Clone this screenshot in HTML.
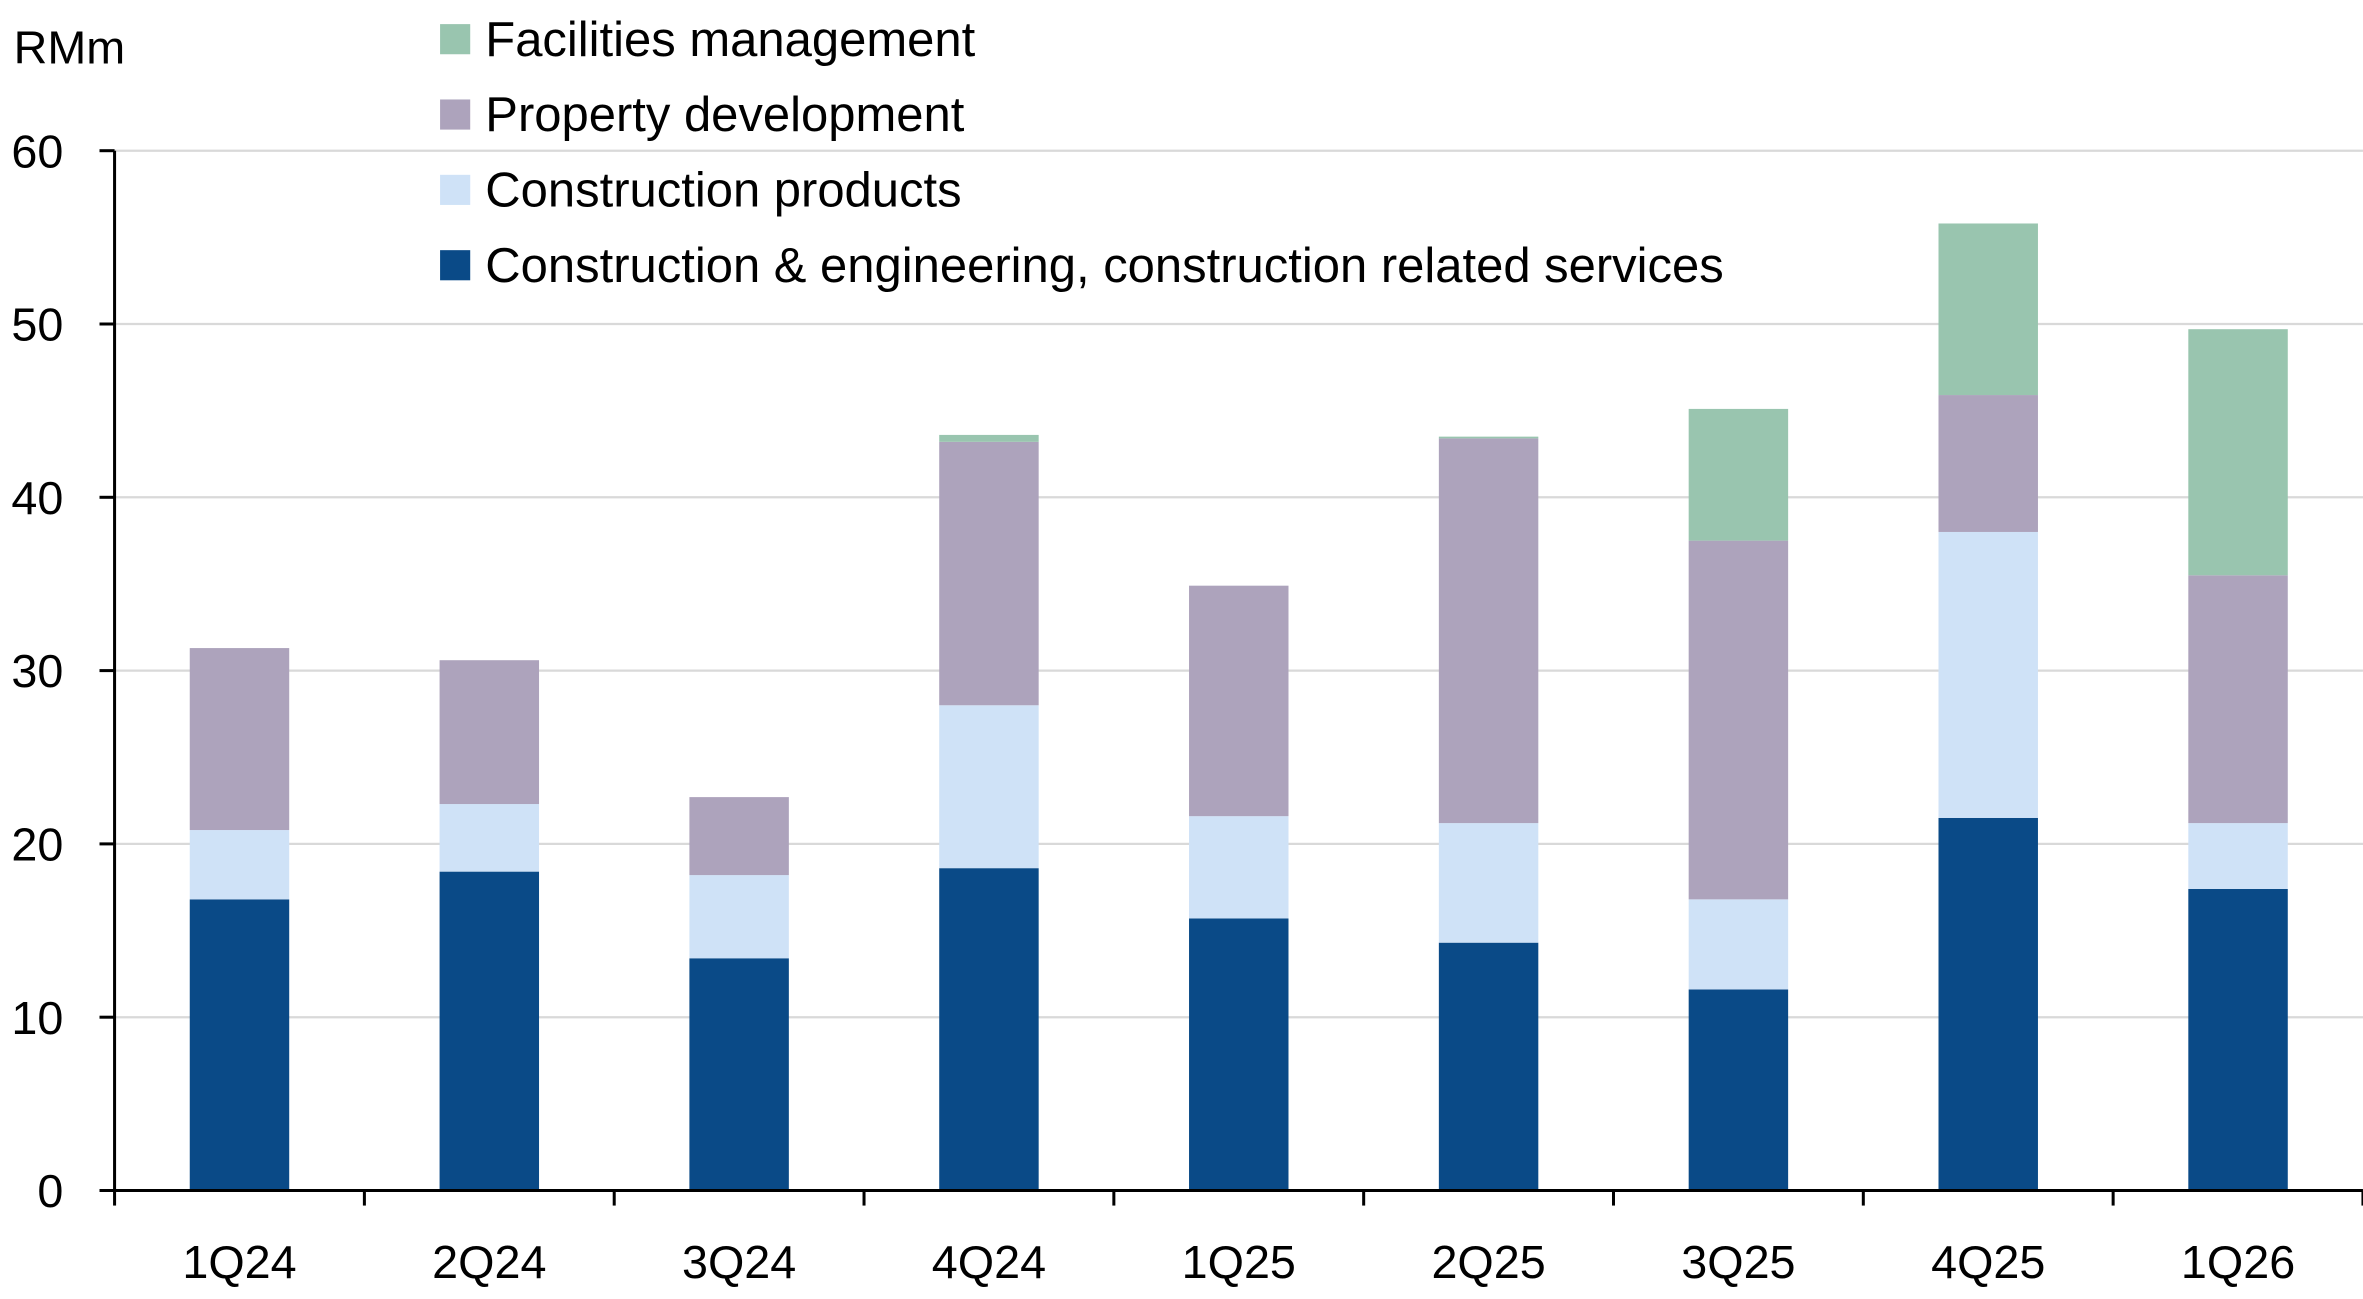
<!DOCTYPE html>
<html><head><meta charset="utf-8"><style>
html,body{margin:0;padding:0;background:#fff;}
svg{display:block;font-family:"Liberation Sans",sans-serif;}
</style></head><body>
<svg id="chart" width="2363" height="1299" viewBox="0 0 1568 862" xmlns="http://www.w3.org/2000/svg">
<g id="grid"></g><g id="bars"></g><g id="axes"></g><g id="legend"></g>
</svg>
<script>
const categories=["1Q24","2Q24","3Q24","4Q24","1Q25","2Q25","3Q25","4Q25","1Q26"];
const constructionEng=[16.8,18.4,13.4,18.6,15.7,14.3,11.6,21.5,17.4];
const constructionProducts=[4.0,3.9,4.8,9.4,5.9,6.9,5.2,16.5,3.8];
const propertyDev=[10.5,8.3,4.5,15.2,13.3,22.2,20.7,7.9,14.3];
const facilitiesMgmt=[0,0,0,0.4,0,0.1,7.6,9.9,14.2];
const yTicks=[0,10,20,30,40,50,60];
const seriesNames=["Construction & engineering, construction related services","Construction products","Property development","Facilities management"];
const colors=["#0a4a87","#cfe2f7","#ada3bc","#99c5af"];
const series=[constructionEng,constructionProducts,propertyDev,facilitiesMgmt];
const NS="http://www.w3.org/2000/svg";
const x0=76,x1=1568,yBase=790,yTop=100,yMax=60;
const y=v=>yBase-(v/yMax)*(yBase-yTop);
const band=(x1-x0)/categories.length;
const xc=i=>x0+band*(i+0.5);
const bw=66;
function mk(tag,attrs,parent){const e=document.createElementNS(NS,tag);for(const k in attrs)e.setAttribute(k,attrs[k]);parent.appendChild(e);return e;}
const grid=document.getElementById('grid'),bars=document.getElementById('bars'),axes=document.getElementById('axes'),legend=document.getElementById('legend');
yTicks.forEach(t=>{
 if(t>0){const g=mk('line',{x1:x0,x2:x1,y1:y(t),y2:y(t),stroke:'#d9d9d9','stroke-width':1.5},grid);
 
 }
 const tk=mk('line',{x1:x0-10,x2:x0,y1:y(t),y2:y(t),stroke:'#000','stroke-width':2},axes);
 
 
 const lb=mk('text',{x:42,y:y(t)+11,'text-anchor':'end','font-size':31,fill:'#000'},axes);lb.textContent=t;
 
 
});
categories.forEach((c,i)=>{
 let cum=0;
 series.forEach((s,k)=>{
  const v=s[i];if(v<=0){return;}
  const r=mk('rect',{x:xc(i)-bw/2,y:y(cum+v),width:bw,height:y(cum)-y(cum+v),fill:colors[k]},bars);
  
  
  cum+=v;
 });
 const lb=mk('text',{x:xc(i),y:848,'text-anchor':'middle','font-size':31,fill:'#000'},axes);lb.textContent=c;
 
 
});
for(let i=0;i<=categories.length;i++){
 const tk=mk('line',{x1:x0+band*i,x2:x0+band*i,y1:yBase,y2:yBase+10,stroke:'#000','stroke-width':2},axes);
 
 
}
const ya=mk('line',{x1:x0,x2:x0,y1:yTop,y2:yBase,stroke:'#000','stroke-width':2},axes);


const xa=mk('line',{x1:x0,x2:x1,y1:yBase,y2:yBase,stroke:'#000','stroke-width':2},axes);


const unit=mk('text',{x:9,y:42,'font-size':31,fill:'#000'},axes);unit.textContent='RMm';


[3,2,1,0].forEach((k,row)=>{
 const yy=26+row*50;
 const sq=mk('rect',{x:292,y:yy-10,width:20,height:20,fill:colors[k]},legend);
 
 
 const t=mk('text',{x:322,y:yy+11,'font-size':32.5,fill:'#000'},legend);t.textContent=seriesNames[k];
 
 
});
</script>
</body></html>
